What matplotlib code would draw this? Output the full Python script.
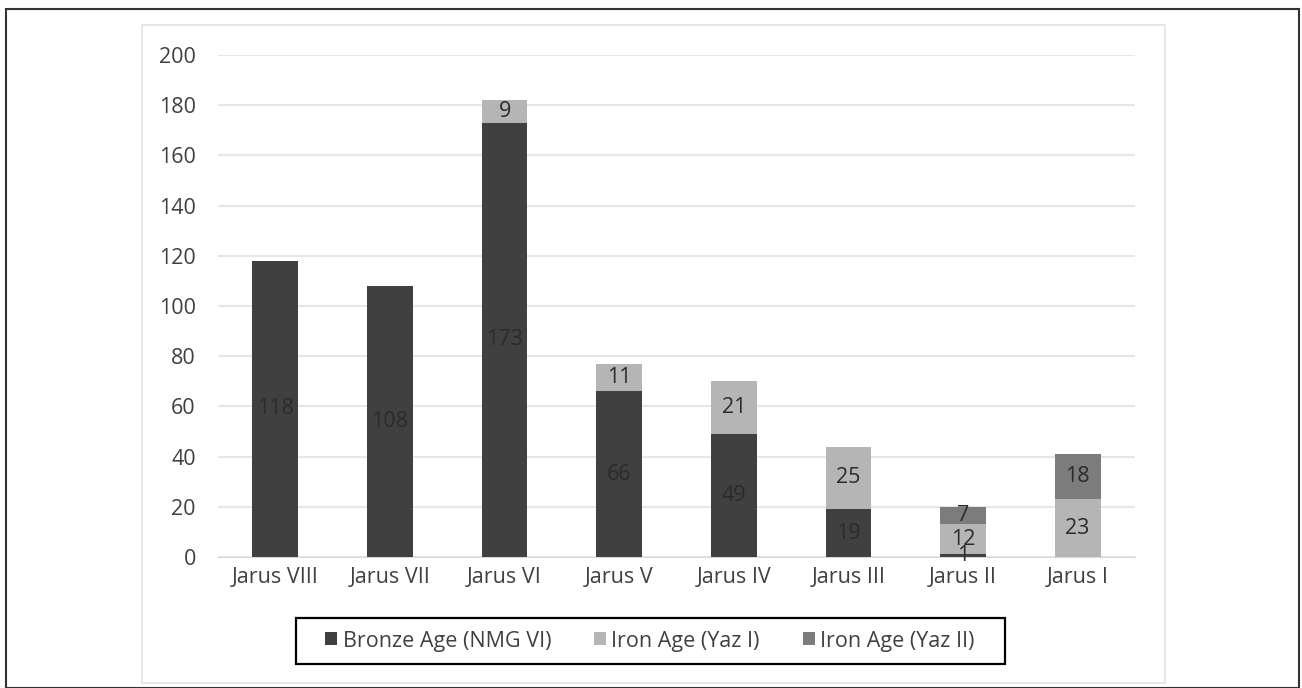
import matplotlib
matplotlib.use("Agg")
import matplotlib.pyplot as plt
from matplotlib.patches import Rectangle

# site phases
sites = ["Jarus VIII", "Jarus VII", "Jarus VI", "Jarus V", "Jarus IV", "Jarus III", "Jarus II", "Jarus I"]
bronze = [118, 108, 173, 66, 49, 19, 1, 0]
yaz1 = [0, 0, 9, 11, 21, 25, 12, 23]
yaz2 = [0, 0, 0, 0, 0, 0, 7, 18]
yticks = [0, 20, 40, 60, 80, 100, 120, 140, 160, 180, 200]

names = ["Bronze Age (NMG VI)", "Iron Age (Yaz I)", "Iron Age (Yaz II)"]
colors = ["#404040", "#b5b5b5", "#7c7c7c"]

plt.rcParams['font.family'] = ['Open Sans', 'DejaVu Sans']
FS = 15.5

fig = plt.figure(figsize=(13.02, 6.88), dpi=100)
W, H = 1302, 688

# outer black frame and light chart frame
fig.patches.append(Rectangle((6 / W, 0), 1293 / W, 679 / H, transform=fig.transFigure,
                             fill=False, edgecolor="#333333", linewidth=1.5))
fig.patches.append(Rectangle((142 / W, 5 / H), 1023 / W, 658 / H, transform=fig.transFigure,
                             fill=False, edgecolor="#e3e3e3", linewidth=1.2))
# legend box
fig.patches.append(Rectangle((296 / W, (H - 664) / H), 709 / W, 46 / H, transform=fig.transFigure,
                             fill=False, edgecolor="black", linewidth=1.6))

ax = fig.add_axes([218 / W, (H - 557) / H, (1135 - 218) / W, (557 - 55) / H])

x = list(range(len(sites)))
bottom = [0] * len(sites)
for vals, name, c in zip([bronze, yaz1, yaz2], names, colors):
    ax.bar(x, vals, width=0.4, bottom=bottom, color=c, label=name, zorder=3)
    for i, v in enumerate(vals):
        if v > 0:
            ax.text(x[i], bottom[i] + v / 2, str(v), ha="center", va="center",
                    fontsize=FS, color="#2b2b2b", zorder=4)
    bottom = [bt + v for bt, v in zip(bottom, vals)]

ax.set_xlim(-0.5, len(sites) - 0.5)
ax.set_ylim(0, 200)
ax.set_yticks(yticks)
ax.set_xticks(x)
ax.set_xticklabels(sites)
ax.tick_params(axis="both", length=0, labelsize=FS, labelcolor="#404040")
ax.tick_params(axis="y", pad=16)
ax.tick_params(axis="x", pad=7)
ax.grid(axis="y", color="#e6e6e6", linewidth=1.5, zorder=0)
for s in ["top", "right", "left"]:
    ax.spines[s].set_visible(False)
ax.spines["bottom"].set_color("#d9d9d9")

fig.legend(loc="center", bbox_to_anchor=(650 / W, (H - 641) / H),
           ncol=3, fontsize=FS, frameon=False, handlelength=0.55,
           handleheight=0.55, handletextpad=0.25, columnspacing=2.0,
           labelcolor="#404040", borderaxespad=0)

fig.savefig("out.png", dpi=100)
